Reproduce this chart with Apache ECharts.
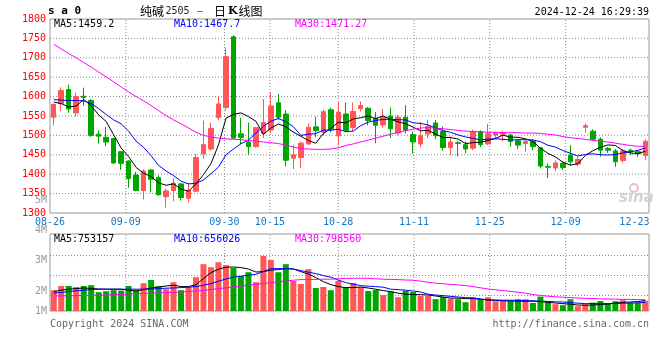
<!DOCTYPE html>
<html><head><meta charset="utf-8">
<script src="https://cdn.jsdelivr.net/npm/echarts@6/dist/echarts.min.js"></script>
<style>html,body{margin:0;padding:0;background:#fff}#c{width:660px;height:360px}</style>
</head><body><div id="c"></div>
<script>
const dates = ['08-26','08-27','08-28','08-29','08-30','09-02','09-03','09-04','09-05','09-06',
'09-09','09-10','09-11','09-12','09-13','09-18','09-19','09-20','09-23','09-24',
'09-25','09-26','09-27','09-30','10-08','10-09','10-10','10-11','10-14','10-15',
'10-16','10-17','10-18','10-21','10-22','10-23','10-24','10-25','10-28','10-29',
'10-30','10-31','11-01','11-04','11-05','11-06','11-07','11-08','11-11','11-12',
'11-13','11-14','11-15','11-18','11-19','11-20','11-21','11-22','11-25','11-26',
'11-27','11-28','11-29','12-02','12-03','12-04','12-05','12-06','12-09','12-10',
'12-11','12-12','12-13','12-16','12-17','12-18','12-19','12-20','12-23','12-24'];
const xTickLabels = ['08-26','09-09','09-30','10-15','10-28','11-11','11-25','12-09','12-23'];
const priceGridValues = [1350,1400,1450,1500,1550,1600,1650,1700,1750];
const volGridValues = [1000000,2000000,3000000];
const volTickLabels = ['5M','4M','3M','2M','1M'];

const opens = [1547,1582,1618,1558,1601,1590,1503,1495,1492,1458,1434,1398,1358,1411,1391,1342,1358,1375,1338,1356,1452,1465,1546,1572,1754,1504,1483,1471,1505,1514,1584,1555,1441,1443,1478,1522,1508,1566,1499,1555,1520,1569,1570,1544,1527,1550,1506,1547,1502,1478,1504,1532,1510,1469,1481,1476,1467,1510,1478,1501,1503,1501,1486,1479,1484,1468,1420,1416,1428,1449,1426,1521,1511,1490,1466,1460,1435,1462,1458,1448];
const closes = [1580,1616,1568,1600,1598,1500,1498,1483,1429,1428,1389,1358,1408,1387,1347,1357,1377,1340,1359,1443,1476,1518,1581,1703,1493,1495,1471,1520,1533,1576,1547,1436,1450,1480,1521,1512,1561,1516,1560,1513,1562,1577,1538,1526,1547,1517,1547,1513,1483,1499,1523,1499,1469,1483,1479,1465,1510,1476,1504,1506,1507,1484,1475,1484,1471,1421,1418,1429,1417,1432,1438,1525,1490,1462,1462,1432,1460,1458,1453,1485];
const lows = [1526,1563,1558,1549,1577,1496,1479,1472,1427,1411,1365,1356,1335,1353,1345,1314,1330,1332,1327,1355,1440,1461,1539,1564,1490,1477,1450,1469,1493,1506,1540,1420,1413,1416,1475,1495,1500,1508,1474,1509,1510,1562,1526,1480,1520,1493,1500,1505,1453,1469,1493,1490,1460,1450,1446,1454,1462,1470,1475,1490,1485,1471,1464,1458,1462,1415,1390,1408,1410,1423,1420,1507,1488,1445,1455,1419,1430,1450,1445,1436];
const highs = [1582,1624,1631,1610,1623,1594,1513,1522,1494,1460,1436,1406,1413,1412,1397,1363,1390,1378,1378,1452,1538,1533,1601,1725,1758,1545,1533,1522,1594,1611,1607,1565,1476,1484,1531,1548,1567,1572,1586,1585,1585,1588,1573,1560,1568,1572,1553,1578,1510,1535,1540,1540,1523,1497,1486,1484,1515,1513,1530,1510,1512,1504,1490,1490,1490,1470,1428,1436,1432,1475,1445,1531,1516,1495,1470,1465,1465,1466,1462,1490];

const ma5 = [1586,1582,1573,1576,1592.4,1576.4,1552.8,1535.8,1501.6,1467.6,1445.4,1417.4,1402.4,1394,1377.8,1371.4,1375.2,1361.6,1356,1375.2,1399,1427.2,1475.4,1544.2,1554.2,1558,1548.6,1536.4,1502.4,1519,1529.4,1522.4,1508.4,1497.8,1486.8,1479.8,1504.8,1518,1534,1532.4,1542.4,1545.6,1550,1543.2,1550,1541,1535,1530,1521.4,1511.8,1513,1503.4,1494.6,1494.6,1490.6,1479,1481.2,1482.6,1486.8,1492.2,1500.6,1495.4,1495.2,1491.2,1484.2,1467,1453.8,1444.6,1431.2,1423.4,1426.8,1448.2,1460.4,1469.4,1475.4,1474.2,1461.2,1454.8,1453,1459.2];
const ma10 = [1592,1591,1590,1590,1589,1582,1569,1554,1540,1530,1510.9,1485.1,1469.1,1447.8,1422.7,1408.4,1396.3,1382,1375,1376.5,1385.2,1401.2,1418.5,1450.1,1464.7,1478.5,1487.9,1505.9,1523.3,1536.6,1543.7,1535.5,1522.4,1500.1,1502.9,1504.6,1513.6,1513.2,1515.9,1509.6,1511.1,1525.2,1534,1538.6,1541.2,1541.7,1540.3,1540,1532.3,1530.9,1527,1519.2,1512.3,1508,1501.2,1496,1492.3,1488.6,1490.7,1491.4,1489.8,1488.3,1488.9,1489,1488.2,1483.8,1474.6,1469.9,1461.2,1453.8,1446.9,1451,1452.5,1450.3,1449.4,1450.5,1454.7,1457.6,1461.2,1467.7];
const ma30 = [1735,1723,1711,1700,1688,1676,1663,1651,1638,1625,1612,1600,1589,1577,1564,1551,1540,1530,1519,1508,1500,1496,1493,1491,1490,1489,1487,1485,1483,1481,1479,1475,1470,1466,1465,1464,1464,1465,1468,1474,1478,1483,1488,1493,1498,1503,1508,1512,1516,1519,1520,1519,1517,1515,1513,1511,1510,1509,1508,1508,1507,1507,1507,1506,1506,1505,1503,1501,1497,1494,1492,1490,1487,1485,1483,1480,1477,1474,1472,1471.27];

const volumes = [1270000,1480000,1480000,1430000,1480000,1520000,1170000,1220000,1270000,1250000,1480000,1270000,1620000,1780000,1470000,1320000,1670000,1270000,1450000,1920000,2570000,2420000,2670000,2520000,2380000,1980000,2170000,1670000,2980000,2780000,2170000,2570000,1730000,1580000,2320000,1380000,1430000,1270000,1730000,1430000,1630000,1420000,1230000,1280000,1020000,1220000,920000,1250000,1180000,980000,980000,820000,930000,850000,820000,670000,920000,820000,920000,720000,750000,750000,820000,820000,630000,950000,680000,570000,520000,820000,470000,570000,650000,730000,600000,720000,770000,650000,650000,750000];
const volMa5 = [1200000,1270000,1320000,1350000,1380000,1360000,1330000,1320000,1320000,1320000,1270000,1230000,1300000,1380000,1430000,1480000,1520000,1450000,1450000,1550000,1850000,2150000,2320000,2420000,2430000,2400000,2330000,2180000,2200000,2270000,2300000,2350000,2330000,2200000,2080000,1900000,1700000,1550000,1450000,1400000,1400000,1430000,1380000,1320000,1250000,1200000,1120000,1070000,1050000,1050000,1030000,980000,930000,880000,870000,850000,850000,820000,780000,760000,740000,730000,720000,720000,720000,700000,660000,630000,600000,570000,530000,520000,530000,550000,580000,620000,660000,680000,700000,753157];
const volMa10 = [1120000,1160000,1200000,1240000,1270000,1300000,1320000,1320000,1320000,1320000,1320000,1320000,1320000,1330000,1350000,1370000,1380000,1400000,1420000,1450000,1520000,1600000,1720000,1830000,1920000,1970000,2020000,2070000,2200000,2350000,2350000,2350000,2330000,2250000,2170000,2100000,2000000,1920000,1780000,1650000,1570000,1500000,1470000,1450000,1420000,1320000,1300000,1270000,1230000,1180000,1070000,1030000,1000000,960000,930000,900000,880000,830000,790000,780000,770000,770000,760000,750000,740000,720000,710000,690000,680000,650000,620000,600000,600000,600000,600000,610000,620000,630000,640000,656026];
const volMa30 = [980000,990000,990000,1000000,1010000,1010000,1020000,1030000,1050000,1060000,1080000,1090000,1110000,1120000,1140000,1150000,1170000,1180000,1210000,1230000,1260000,1300000,1350000,1390000,1430000,1480000,1520000,1560000,1600000,1650000,1690000,1730000,1770000,1800000,1800000,1810000,1820000,1820000,1840000,1860000,1870000,1870000,1860000,1840000,1820000,1810000,1800000,1780000,1770000,1720000,1670000,1620000,1590000,1560000,1530000,1500000,1450000,1390000,1330000,1290000,1250000,1210000,1170000,1120000,1050000,1010000,970000,940000,920000,900000,880000,860000,850000,840000,830000,820000,810000,810000,800000,798560];

const priceMaTexts = ['MA5:1459.2','MA10:1467.7','MA30:1471.27'];
const volMaTexts = ['MA5:753157','MA10:656026','MA30:798560'];

const UP = '#ff5656', DOWN = '#00a600';
const MONO = '"DejaVu Sans Mono", monospace';
const lastTick = xTickLabels[xTickLabels.length - 1];
const isTick = (i, v) => xTickLabels.indexOf(v) >= 0;
const gridIdx = xTickLabels.filter(v => v !== xTickLabels[0] && v !== lastTick).map(d => dates.indexOf(d));
const LAST = dates.length - 1;
const PRICE_MIN = 1300, PRICE_MAX = 1800, VOL_MIN = 230000, VOL_MAX = 4080000;

const candleData = opens.map((o, i) => [o, closes[i], lows[i], highs[i]]);
const volData = volumes.map((v, i) => ({value: v, itemStyle: {color: closes[i] >= opens[i] ? UP : DOWN}}));

const dotStyle = {color: '#888', width: 1, type: [1, 2]};
function gridLine(xi, yi, pts) {
  return {type: 'line', xAxisIndex: xi, yAxisIndex: yi, data: pts, symbol: 'none', silent: true, z: 1,
    lineStyle: dotStyle, emphasis: {disabled: true}, animation: false};
}
// hairline offsets keep each dotted rule's bounding box non-degenerate
const gridSeries = [].concat(
  priceGridValues.map(v => gridLine(4, 0, [[0, v], [LAST, v + 0.4]])),
  gridIdx.map(k => gridLine(4, 0, [[k, PRICE_MIN], [k + 0.01, PRICE_MAX]])),
  volGridValues.map(v => gridLine(5, 1, [[0, v], [LAST, v + 5000]])),
  gridIdx.map(k => gridLine(5, 1, [[k, VOL_MIN], [k + 0.01, VOL_MAX]]))
);

function txt(x, y, text, fill, font, align, extra) {
  return Object.assign({type: 'text', x: x, y: y, z: 100, silent: true,
    style: {text: text, fill: fill, font: font, align: align || 'left', textAlign: align || 'left',
      verticalAlign: 'middle', textVerticalAlign: 'middle'}}, extra || {});
}
const volLabelY = [200.7, 230.5, 260.5, 291, 311.5];

const chart = echarts.init(document.getElementById('c'), null, {renderer: 'canvas', width: 660, height: 360});
chart.setOption({
  animation: false,
  backgroundColor: '#fff',
  textStyle: {fontFamily: MONO},
  grid: [
    {left: 50, top: 19, width: 599, height: 194, show: true, borderColor: '#999', borderWidth: 1, backgroundColor: 'transparent'},
    {left: 50, top: 234, width: 599, height: 77, show: true, borderColor: '#999', borderWidth: 1, backgroundColor: 'transparent'}
  ],
  xAxis: [
    {type: 'category', gridIndex: 0, data: dates, boundaryGap: true, show: false},
    {type: 'category', gridIndex: 0, data: dates, boundaryGap: false, position: 'bottom',
      axisLine: {show: false}, axisTick: {show: false}, splitLine: {show: false},
      axisLabel: {interval: isTick, color: '#1878c8', fontSize: 10, fontFamily: MONO, margin: 4,
        formatter: v => v === lastTick ? '{r|' + v + '}' : v,
        rich: {r: {color: '#1878c8', fontSize: 10, fontFamily: MONO, padding: [0, 14, 0, 0]}}}},
    {type: 'category', gridIndex: 1, data: dates, boundaryGap: true, show: false},
    {type: 'category', gridIndex: 1, data: dates, boundaryGap: false, show: false},
    {type: 'value', gridIndex: 0, min: 0, max: LAST, show: false},
    {type: 'value', gridIndex: 1, min: 0, max: LAST, show: false}
  ],
  yAxis: [
    {type: 'value', gridIndex: 0, min: PRICE_MIN, max: PRICE_MAX, interval: 50,
      axisLine: {show: false}, axisTick: {show: false}, splitLine: {show: false},
      axisLabel: {color: '#ff0000', fontSize: 10, fontFamily: MONO, margin: 4, showMinLabel: true, showMaxLabel: true,
        formatter: v => String(v)}},
    {type: 'value', gridIndex: 1, min: VOL_MIN, max: VOL_MAX, show: false}
  ],
  series: gridSeries.concat([
    {type: 'candlestick', xAxisIndex: 0, yAxisIndex: 0, data: candleData, barWidth: 5, z: 3,
      itemStyle: {color: UP, color0: DOWN, borderColor: UP, borderColor0: DOWN, borderWidth: 1}},
    {type: 'line', xAxisIndex: 0, yAxisIndex: 0, data: ma5, symbol: 'none', lineStyle: {color: '#000', width: 1}, z: 5},
    {type: 'line', xAxisIndex: 0, yAxisIndex: 0, data: ma10, symbol: 'none', lineStyle: {color: '#0000ff', width: 1}, z: 5},
    {type: 'line', xAxisIndex: 0, yAxisIndex: 0, data: ma30, symbol: 'none', lineStyle: {color: '#ff00ff', width: 1}, z: 5},
    {type: 'bar', xAxisIndex: 2, yAxisIndex: 1, data: volData, barWidth: 6, clip: true, z: 3},
    {type: 'line', xAxisIndex: 2, yAxisIndex: 1, data: volMa5, symbol: 'none', lineStyle: {color: '#000', width: 1}, z: 5},
    {type: 'line', xAxisIndex: 2, yAxisIndex: 1, data: volMa10, symbol: 'none', lineStyle: {color: '#0000ff', width: 1}, z: 5},
    {type: 'line', xAxisIndex: 2, yAxisIndex: 1, data: volMa30, symbol: 'none', lineStyle: {color: '#ff00ff', width: 1}, z: 5}
  ]),
  graphic: [
    txt(48, 11.5, 's a 0', '#000', 'bold 11px ' + MONO),
    txt(140, 11, '纯碱', '#000', '12px "Noto Sans CJK SC"'),
    txt(165.5, 11.5, '2505', '#222', '10px ' + MONO),
    txt(196, 11, '－', '#000', '8px "Noto Sans CJK SC"'),
    {type: 'text', x: 214, y: 11, z: 100, silent: true, style: {
      text: '{a|日}{k|K}{a|线图}', verticalAlign: 'middle', textVerticalAlign: 'middle',
      rich: {a: {fill: '#000', fontSize: 12, fontFamily: 'Noto Sans CJK SC'},
             k: {fill: '#000', fontSize: 11, fontWeight: 'bold', fontFamily: 'DejaVu Serif', padding: [0, 1, 0, 2]}}}},
    txt(649, 12, '2024-12-24 16:29:39', '#000', '10px ' + MONO, 'right'),
    txt(54, 24, priceMaTexts[0], '#000', '10px ' + MONO),
    txt(174, 24, priceMaTexts[1], '#0000ff', '10px ' + MONO),
    txt(295, 24, priceMaTexts[2], '#ff00ff', '10px ' + MONO),
    txt(54, 239, volMaTexts[0], '#000', '10px ' + MONO),
    txt(174, 239, volMaTexts[1], '#0000ff', '10px ' + MONO),
    txt(295, 239, volMaTexts[2], '#ff00ff', '10px ' + MONO),
    ...volTickLabels.map((t, k) => txt(47, volLabelY[k], t, '#999', '10px ' + MONO, 'right')),
    txt(50, 324, 'Copyright 2024 SINA.COM', '#666', '10px ' + MONO),
    txt(649, 324, 'http://finance.sina.com.cn', '#666', '10px ' + MONO, 'right'),
    txt(619, 198, 'sina', '#d4d4d4', 'italic bold 15px "DejaVu Sans"'),
    {type: 'circle', shape: {cx: 634, cy: 188, r: 4}, z: 100, silent: true, style: {fill: 'none', stroke: '#f0c0c0', lineWidth: 2}}
  ]
});
</script></body></html>
